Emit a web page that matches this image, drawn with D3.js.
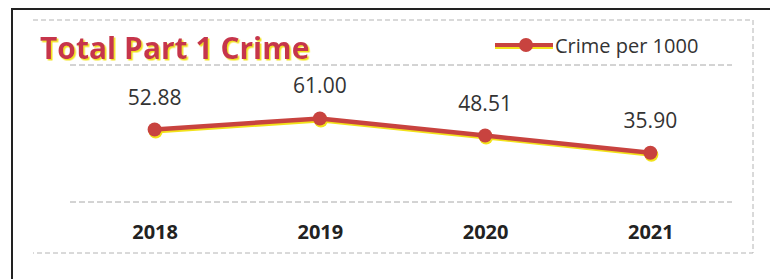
<!DOCTYPE html>
<html>
<head>
<meta charset="utf-8">
<script src="https://cdn.jsdelivr.net/npm/d3@7"></script>
<style>
  html, body { margin: 0; padding: 0; background: #fff; }
  svg { display: block; }
</style>
</head>
<body>
<div id="chart"></div>
<script>
const years = ['2018', '2019', '2020', '2021'];
const crimePer1000 = [52.88, 61.00, 48.51, 35.90];
const valueLabels = ['52.88', '61.00', '48.51', '35.90'];
const gridValues = [0, 100];
const seriesName = 'Crime per 1000';
const chartTitle = 'Total Part 1 Crime';

const width = 770;
const height = 279;
const red = '#c8433f';
const yellow = '#f2e21a';
const font = '"Open Sans", sans-serif';

const svg = d3.select('#chart')
  .append('svg')
  .attr('width', width)
  .attr('height', height);

// yellow offset shadow used by the title (scan look)
svg.append('defs')
  .append('filter')
  .attr('id', 'yshadow')
  .attr('x', '-5%').attr('y', '-20%')
  .attr('width', '110%').attr('height', '140%')
  .append('feDropShadow')
  .attr('dx', 1.5)
  .attr('dy', 1.5)
  .attr('stdDeviation', 0.6)
  .attr('flood-color', yellow)
  .attr('flood-opacity', 1);

// scanned outer border (black) and inner chart frame (grey dashes)
svg.append('path')
  .attr('d', 'M12,279 L12,9 L770,9')
  .attr('fill', 'none')
  .attr('stroke', '#222')
  .attr('stroke-width', 2);

svg.append('path')
  .attr('d', 'M33,20 L753,20 L753,253 L33,253')
  .attr('fill', 'none')
  .attr('stroke', '#b4b4b4')
  .attr('stroke-width', 1)
  .attr('stroke-dasharray', '5,3');

const x = d3.scalePoint()
  .domain(years)
  .range([72, 733])
  .padding(0.5);

const y = d3.scaleLinear()
  .domain([0, 100])
  .range([202, 65]);

// gridlines
svg.append('g')
  .selectAll('line')
  .data(gridValues)
  .enter()
  .append('line')
  .attr('x1', 70)
  .attr('x2', 732)
  .attr('y1', d => y(d))
  .attr('y2', d => y(d))
  .attr('stroke', '#a8a8a8')
  .attr('stroke-width', 1)
  .attr('stroke-dasharray', '6,3');

// x axis labels
const xAxis = d3.axisBottom(x).tickSize(0).tickPadding(0);
const xg = svg.append('g')
  .attr('transform', 'translate(0,225)')
  .call(xAxis);
xg.select('.domain').remove();
xg.selectAll('text')
  .attr('font-family', font)
  .attr('font-size', 20)
  .attr('font-weight', 700)
  .attr('fill', '#222');

const data = years.map((yr, i) => ({ year: yr, value: crimePer1000[i], label: valueLabels[i] }));

const line = d3.line()
  .x(d => x(d.year))
  .y(d => y(d.value));

// yellow halo under the red series
svg.append('path')
  .datum(data)
  .attr('d', line)
  .attr('transform', 'translate(1,2)')
  .attr('fill', 'none')
  .attr('stroke', yellow)
  .attr('stroke-width', 4);

svg.selectAll('circle.halo')
  .data(data)
  .enter()
  .append('circle')
  .attr('class', 'halo')
  .attr('cx', d => x(d.year) + 1)
  .attr('cy', d => y(d.value) + 2)
  .attr('r', 7)
  .attr('fill', yellow);

svg.append('path')
  .datum(data)
  .attr('d', line)
  .attr('fill', 'none')
  .attr('stroke', red)
  .attr('stroke-width', 4.5);

svg.selectAll('circle.pt')
  .data(data)
  .enter()
  .append('circle')
  .attr('class', 'pt')
  .attr('cx', d => x(d.year))
  .attr('cy', d => y(d.value))
  .attr('r', 7)
  .attr('fill', red);

// data labels
svg.selectAll('text.val')
  .data(data)
  .enter()
  .append('text')
  .attr('class', 'val')
  .attr('x', d => x(d.year))
  .attr('y', d => y(d.value) - 25)
  .attr('text-anchor', 'middle')
  .attr('font-family', font)
  .attr('font-size', 21)
  .attr('fill', '#333')
  .text(d => d.label);

// title
svg.append('text')
  .attr('x', 40)
  .attr('y', 59)
  .attr('font-family', font)
  .attr('font-size', 30)
  .attr('font-weight', 700)
  .attr('fill', '#c6364c')
  .attr('filter', 'url(#yshadow)')
  .text(chartTitle);

// legend
const legend = svg.append('g');
legend.append('line')
  .attr('x1', 495).attr('x2', 553)
  .attr('y1', 47).attr('y2', 47)
  .attr('stroke', yellow)
  .attr('stroke-width', 4);
legend.append('line')
  .attr('x1', 495).attr('x2', 553)
  .attr('y1', 45).attr('y2', 45)
  .attr('stroke', red)
  .attr('stroke-width', 4);
legend.append('circle')
  .attr('cx', 526).attr('cy', 45).attr('r', 7)
  .attr('fill', red);
legend.append('text')
  .attr('x', 555)
  .attr('y', 53)
  .attr('font-family', font)
  .attr('font-size', 20)
  .attr('fill', '#333')
  .text(seriesName);
</script>
</body>
</html>
